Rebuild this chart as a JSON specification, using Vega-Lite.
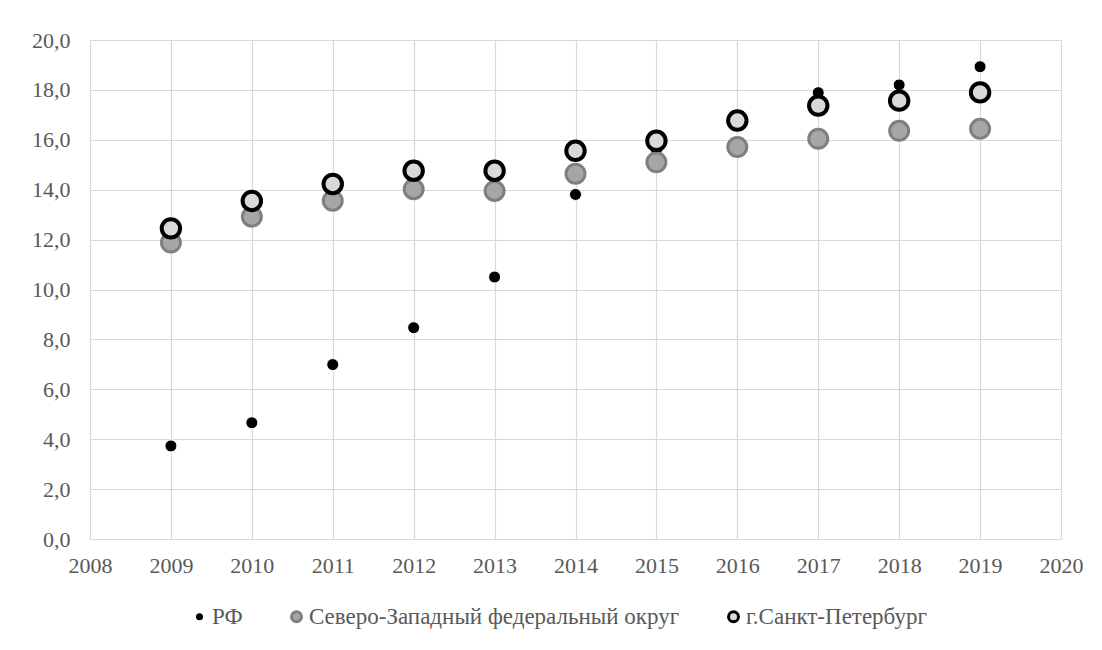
{
  "$schema": "https://vega.github.io/schema/vega-lite/v6.json",
  "autosize": {"type": "none"},
  "padding": {"left": 90, "top": 40, "right": 41, "bottom": 111},
  "width": 971,
  "height": 499,
  "background": "white",
  "config": {
    "view": {"stroke": "#d9d9d9", "strokeWidth": 1},
    "axis": {
      "labelFont": "Liberation Serif",
      "labelFontSize": 22,
      "labelColor": "#595959",
      "gridColor": "#d9d9d9",
      "gridWidth": 1.2,
      "domain": false,
      "ticks": false,
      "title": null
    },
    "legend": {
      "labelFont": "Liberation Serif",
      "labelFontSize": 23,
      "labelColor": "#595959",
      "labelLimit": 600,
      "symbolStrokeWidth": 3
    }
  },
  "data": {
    "values": [
      {"year": 2009, "series": "РФ", "value": 3.73},
      {"year": 2010, "series": "РФ", "value": 4.66},
      {"year": 2011, "series": "РФ", "value": 6.99},
      {"year": 2012, "series": "РФ", "value": 8.47},
      {"year": 2013, "series": "РФ", "value": 10.5},
      {"year": 2014, "series": "РФ", "value": 13.81},
      {"year": 2015, "series": "РФ", "value": 15.6},
      {"year": 2016, "series": "РФ", "value": 16.7},
      {"year": 2017, "series": "РФ", "value": 17.89},
      {"year": 2018, "series": "РФ", "value": 18.2},
      {"year": 2019, "series": "РФ", "value": 18.93},
      {"year": 2009, "series": "Северо-Западный федеральный округ", "value": 11.88},
      {"year": 2010, "series": "Северо-Западный федеральный округ", "value": 12.92},
      {"year": 2011, "series": "Северо-Западный федеральный округ", "value": 13.56},
      {"year": 2012, "series": "Северо-Западный федеральный округ", "value": 14.02},
      {"year": 2013, "series": "Северо-Западный федеральный округ", "value": 13.95},
      {"year": 2014, "series": "Северо-Западный федеральный округ", "value": 14.64},
      {"year": 2015, "series": "Северо-Западный федеральный округ", "value": 15.1},
      {"year": 2016, "series": "Северо-Западный федеральный округ", "value": 15.71},
      {"year": 2017, "series": "Северо-Западный федеральный округ", "value": 16.04},
      {"year": 2018, "series": "Северо-Западный федеральный округ", "value": 16.36},
      {"year": 2019, "series": "Северо-Западный федеральный округ", "value": 16.44},
      {"year": 2009, "series": "г.Санкт-Петербург", "value": 12.45},
      {"year": 2010, "series": "г.Санкт-Петербург", "value": 13.55},
      {"year": 2011, "series": "г.Санкт-Петербург", "value": 14.23},
      {"year": 2012, "series": "г.Санкт-Петербург", "value": 14.76},
      {"year": 2013, "series": "г.Санкт-Петербург", "value": 14.76},
      {"year": 2014, "series": "г.Санкт-Петербург", "value": 15.56},
      {"year": 2015, "series": "г.Санкт-Петербург", "value": 15.96},
      {"year": 2016, "series": "г.Санкт-Петербург", "value": 16.77},
      {"year": 2017, "series": "г.Санкт-Петербург", "value": 17.37},
      {"year": 2018, "series": "г.Санкт-Петербург", "value": 17.57},
      {"year": 2019, "series": "г.Санкт-Петербург", "value": 17.9}
    ]
  },
  "encoding": {
    "x": {
      "field": "year",
      "type": "quantitative",
      "scale": {"domain": [2008, 2020], "nice": false, "zero": false},
      "axis": {
        "values": [2008, 2009, 2010, 2011, 2012, 2013, 2014, 2015, 2016, 2017, 2018, 2019, 2020],
        "format": "d",
        "labelPadding": 16,
        "labelFlush": false
      }
    },
    "y": {
      "field": "value",
      "type": "quantitative",
      "scale": {"domain": [0, 20], "nice": false},
      "axis": {
        "values": [0, 2, 4, 6, 8, 10, 12, 14, 16, 18, 20],
        "labelExpr": "replace(format(datum.value, '.1f'), '.', ',')",
        "labelPadding": 20
      }
    },
    "fill": {
      "field": "series",
      "type": "nominal",
      "title": null,
      "scale": {
        "domain": ["РФ", "Северо-Западный федеральный округ", "г.Санкт-Петербург"],
        "range": ["#000000", "#a6a6a6", "#d9d9d9"]
      },
      "legend": {
        "title": null,
        "orient": "none",
        "direction": "horizontal",
        "legendX": 98,
        "legendY": 565,
        "columnPadding": 42,
        "labelOffset": 1,
        "labelLimit": 600,
        "labelFont": "Liberation Serif",
        "labelFontSize": 23,
        "symbolType": "circle",
        "encode": {
          "symbols": {
            "update": {
              "size": {"signal": "datum.value === 'РФ' ? 81 : 100"},
              "strokeWidth": {"signal": "datum.value === 'РФ' ? 0 : (datum.value === 'г.Санкт-Петербург' ? 3.5 : 2)"}
            }
          }
        }
      }
    },
    "stroke": {
      "field": "series",
      "type": "nominal",
      "title": null,
      "scale": {
        "domain": ["РФ", "Северо-Западный федеральный округ", "г.Санкт-Петербург"],
        "range": ["#ffffff", "#7f7f7f", "#000000"]
      },
      "legend": {
        "title": null,
        "orient": "none",
        "direction": "horizontal",
        "legendX": 98,
        "legendY": 565,
        "columnPadding": 42,
        "labelOffset": 1,
        "labelLimit": 600,
        "labelFont": "Liberation Serif",
        "labelFontSize": 23,
        "symbolType": "circle",
        "encode": {
          "symbols": {
            "update": {
              "size": {"signal": "datum.value === 'РФ' ? 81 : 100"},
              "strokeWidth": {"signal": "datum.value === 'РФ' ? 0 : (datum.value === 'г.Санкт-Петербург' ? 3.5 : 2)"}
            }
          }
        }
      }
    }
  },
  "layer": [
    {
      "transform": [{"filter": "datum.series === 'РФ'"}],
      "mark": {"type": "point", "shape": "circle", "filled": true, "opacity": 1, "strokeOpacity": 1, "size": 144, "strokeWidth": 1}
    },
    {
      "transform": [{"filter": "datum.series === 'Северо-Западный федеральный округ'"}],
      "mark": {"type": "point", "shape": "circle", "filled": true, "opacity": 1, "strokeOpacity": 1, "size": 360, "strokeWidth": 3}
    },
    {
      "transform": [{"filter": "datum.series === 'г.Санкт-Петербург'"}],
      "mark": {"type": "point", "shape": "circle", "filled": true, "opacity": 1, "strokeOpacity": 1, "size": 340, "strokeWidth": 4}
    }
  ]
}
